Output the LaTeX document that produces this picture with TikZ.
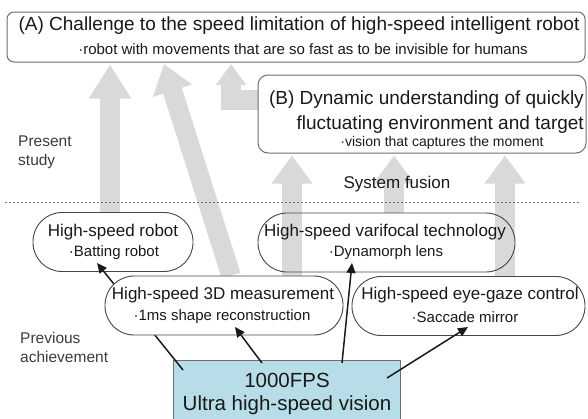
\documentclass[tikz,border=0pt]{standalone}
\usepackage{fontspec}
\setmainfont{Liberation Sans}
\usetikzlibrary{arrows.meta,backgrounds}
\definecolor{arrowgray}{RGB}{217,217,217}
\definecolor{boxline}{RGB}{110,110,110}
\definecolor{pillline}{RGB}{70,70,70}
\definecolor{visfill}{RGB}{183,222,232}
\definecolor{txt}{RGB}{25,25,25}
\begin{document}
\begin{tikzpicture}[x=1pt,y=-1pt,
  bigbox/.style={draw=boxline, line width=1pt, rounded corners=7pt, inner sep=0pt},
  pill/.style={draw=pillline, line width=0.9pt, rounded corners=29pt, minimum height=59pt, inner sep=0pt},
  fbig/.style={text=txt, inner sep=0pt, font=\fontsize{19}{22}\selectfont},
  fsub/.style={text=txt, inner sep=0pt, font=\fontsize{15}{18}\selectfont},
  fsmall/.style={text=txt, inner sep=0pt, font=\fontsize{14}{16}\selectfont},
  fpill/.style={text=txt, inner sep=0pt, font=\fontsize{17}{20}\selectfont},
  fside/.style={text=txt!85!white, inner sep=0pt, align=left, anchor=west, font=\fontsize{15.5}{19}\selectfont},
  fvis/.style={text=txt, inner sep=0pt, font=\fontsize{20.5}{24}\selectfont},
  garrow/.style={draw=arrowgray, line width=19.5pt, line join=miter, shorten >=2pt, -{Triangle[width=39pt,length=28pt]}},
  garrowbig/.style={garrow, -{Triangle[width=40pt,length=34pt]}},
  garrowsmall/.style={garrow, -{Triangle[width=29pt,length=21pt]}},
  blarrow/.style={draw=txt, line width=1.5pt, -{Triangle[width=9pt,length=10pt]}}]
\useasboundingbox (0,0) rectangle (588,418);
\clip (0,0) rectangle (588,418);

% dotted separator
\coordinate (dl) at (5,202);
\coordinate (dr) at (581,202);
\draw[gray!90!black, line width=0.8pt, dash pattern=on 2pt off 2pt] (dl) -- (dr);

% top boxes
\node[bigbox, minimum width=578pt, minimum height=50pt] (A) at (296,37) {};
\node[fbig] (A1) at (299,26) {(A) Challenge to the speed limitation of high-speed intelligent robot};
\node[fsub] (A2) at (303,49) {·robot with movements that are so fast as to be invisible for humans};

\node[bigbox, rounded corners=10pt, minimum width=328pt, minimum height=78pt] (B) at (422,114) {};
\node[fbig, anchor=east] (B1) at (584,100) {(B) Dynamic understanding of quickly};
\node[fbig, anchor=east] (B2) at (584,125) {fluctuating environment and target};
\node[fsmall] (B3) at (442,143) {·vision that captures the moment};

% side labels
\node[fside] (ps) at (18,152.5) {Present\\study};
\node[fside] (pa) at (20,347.5) {Previous\\achievement};
\node[fpill] (sf) at (397,184) {System fusion};

% pills
\node[pill, minimum width=160pt] (robot) at (113,242) {};
\node[fpill] (robot1) at (113,232) {High-speed robot};
\node[fsub] (robot2) at (114,253) {·Batting robot};

\node[pill, minimum width=257pt] (vari) at (386.5,242.5) {};
\node[fpill] (vari1) at (385,232) {High-speed varifocal technology};
\node[fsub] (vari2) at (386,253) {·Dynamorph lens};

\node[pill, fill=white, minimum width=233pt] (eye) at (468.5,306) {};
\node[fpill] (eye1) at (470,295) {High-speed eye-gaze control};
\node[fsub] (eye2) at (465,317) {·Saccade mirror};

% vision box
\node[draw=boxline, line width=0.9pt, fill=visfill, minimum width=227pt, minimum height=65pt, inner sep=0pt] (vis) at (286.5,392.5) {};
\node[fvis] (vis1) at (287,380) {1000FPS};
\node[fvis] (vis2) at (287,405) {Ultra high-speed vision};

% line to robot (passes behind 3D box)
\coordinate (ka) at (183,370);
\coordinate (kaend) at (97,263);
\draw[blarrow] (ka) -- (kaend);

\node[pill, fill=white, minimum width=238pt] (m3d) at (224,305.5) {};
\node[fpill] (m3d1) at (223,295) {High-speed 3D measurement};
\node[fsub] (m3d2) at (222,317) {·1ms shape reconstruction};

% other black arrows
\coordinate (kb) at (262,363);
\coordinate (kbend) at (235,327);
\draw[blarrow] (kb) -- (kbend);
\coordinate (kc) at (342,363);
\coordinate (kcend) at (352,263);
\draw[blarrow] (kc) -- (kcend);
\coordinate (kd) at (387,378);
\coordinate (kdend) at (468,327);
\draw[blarrow] (kd) -- (kdend);

% gray block arrows
\begin{pgfonlayer}{background}
\draw[garrowbig] ([xshift=-3pt]robot.north) -- ([xshift=-3pt]robot.north |- A.south);
\coordinate (g2tip) at (164,64);
\draw[garrow, shorten >=0pt] ([xshift=7pt]m3d.north) -- (g2tip);
\coordinate (g3top) at (231,64);
\draw[garrowsmall, shorten >=0pt] ([yshift=14pt]B.west) -| (g3top);
\draw[garrow] ([xshift=68pt]m3d.north) -- ([xshift=68pt]m3d.north |- B.south);
\draw[garrow] ([xshift=7.5pt]vari.north) -- ([xshift=7.5pt]vari.north |- B.south);
\draw[garrow] ([xshift=36.5pt]eye.north) -- ([xshift=36.5pt]eye.north |- B.south);
\end{pgfonlayer}
\end{tikzpicture}
\end{document}
